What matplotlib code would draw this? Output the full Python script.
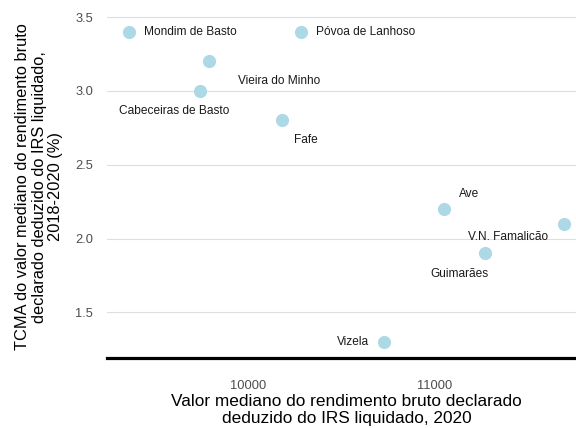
import matplotlib.pyplot as plt

plt.rcParams['font.family'] = ['Liberation Sans', 'DejaVu Sans']

# data
municipios = ['Mondim de Basto', 'Póvoa de Lanhoso', 'Vieira do Minho', 'Cabeceiras de Basto',
              'Fafe', 'Ave', 'V.N. Famalicão', 'Guimarães', 'Vizela']
rendimento = [9362, 10283, 9791, 9743, 10182, 11050, 11691, 11267, 10729]
tcma = [3.4, 3.4, 3.2, 3.0, 2.8, 2.2, 2.1, 1.9, 1.3]

# label offsets from each point, in pixels (right, up)
offsets = {
    'Mondim de Basto': (61.5, 0),
    'Póvoa de Lanhoso': (65, 0),
    'Vieira do Minho': (70.5, -19.5),
    'Cabeceiras de Basto': (-26, -20),
    'Fafe': (24, -20),
    'Ave': (25, 15.5),
    'V.N. Famalicão': (-56, -13),
    'Guimarães': (-26, -21),
    'Vizela': (-31, 0),
}

fig = plt.figure(figsize=(5.76, 4.28), dpi=100)
ax = fig.add_axes([107 / 576, 70.5 / 428, 479 / 576, 341.2 / 428])

ax.scatter(rendimento, tcma, s=90, color='#ADD8E6', zorder=3, linewidths=0)
for name, x, y in zip(municipios, rendimento, tcma):
    dx, dy = offsets[name]
    ax.annotate(name, (x, y), xytext=(dx * 0.72, dy * 0.72), textcoords='offset points',
                ha='center', va='center', fontsize=8.6, color='#1a1a1a')

ax.set_xlim(9246, 11807)
ax.set_ylim(1.195, 3.505)
ax.set_xticks([10000, 11000])
ax.set_yticks([1.5, 2.0, 2.5, 3.0, 3.5])
ax.set_yticklabels(['1.5', '2.0', '2.5', '3.0', '3.5'])
ax.grid(axis='y', color='#DEDEDE', linewidth=0.8)
ax.set_axisbelow(True)
ax.tick_params(length=0, labelsize=9.3, labelcolor='#4D4D4D')
ax.tick_params(axis='y', pad=10)
ax.tick_params(axis='x', pad=16)
for side in ('top', 'right', 'left'):
    ax.spines[side].set_visible(False)
ax.spines['bottom'].set_linewidth(2.3)
ax.spines['bottom'].set_color('black')

ax.set_xlabel('Valor mediano do rendimento bruto declarado\ndeduzido do IRS liquidado, 2020',
              fontsize=12.4, labelpad=2, linespacing=1.15)
ax.set_ylabel('TCMA do valor mediano do rendimento bruto\ndeclarado deduzido do IRS liquidado,\n2018-2020 (%)',
              fontsize=11.8, labelpad=8.5, linespacing=1.15)

fig.savefig('out.png', dpi=100)
